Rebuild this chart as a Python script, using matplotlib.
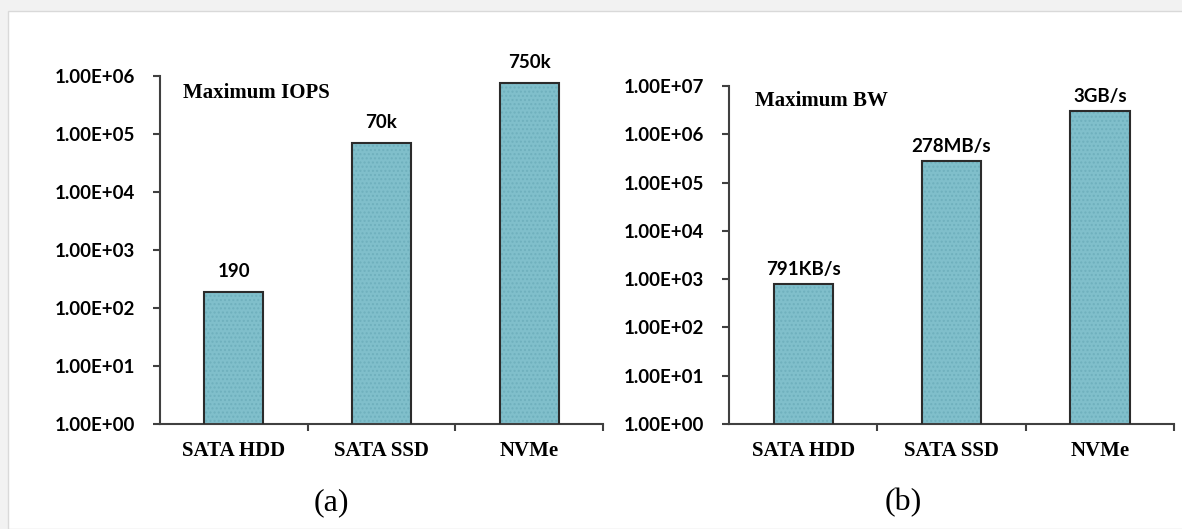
import math
import matplotlib.pyplot as plt
from matplotlib.patches import Rectangle

# data
devices = ["SATA HDD", "SATA SSD", "NVMe"]
iops = [190, 70000, 750000]
iops_labels = ["190", "70k", "750k"]
bw = [791, 278000, 3000000]          # KB/s
bw_labels = ["791KB/s", "278MB/s", "3GB/s"]

bar_color = "#80bfcb"
edge_color = "#2b2b2b"
axis_color = "#404040"

fig = plt.figure(figsize=(11.82, 5.29), dpi=100, facecolor="#f2f2f2")
# white page area
fig.patches.append(Rectangle((8 / 1182, 0), 1, 1 - 11 / 529, transform=fig.transFigure,
                             facecolor="white", edgecolor="#d9d9d9", lw=1, zorder=-1))


def panel(rect, values, labels, ymax, title, title_xy, sub, lab_off):
    ax = fig.add_axes(rect)
    ax.set_facecolor("none")
    x = range(len(values))
    ax.bar(x, values, width=0.4, color=bar_color, edgecolor="#6fb0bd", hatch="....",
           linewidth=0, zorder=2)
    ax.bar(x, values, width=0.4, facecolor="none", edgecolor=edge_color, linewidth=1.5, zorder=3)
    ax.set_yscale("log")
    ax.set_ylim(1, ymax)
    ax.set_xlim(-0.5, 2.5)
    ax.yaxis.set_major_locator(plt.LogLocator(base=10, numticks=20))
    ax.yaxis.set_minor_locator(plt.NullLocator())
    ax.yaxis.set_major_formatter(plt.FuncFormatter(lambda v, p: "1.00E+%02d" % round(math.log10(v))))
    ax.set_xticks([0.5, 1.5, 2.5])
    ax.set_xticklabels([])
    ax.set_xticks(list(x), minor=True)
    ax.set_xticklabels(devices, minor=True, fontfamily="Liberation Serif", fontweight="bold",
                       fontsize=15)
    ax.tick_params(axis="x", which="minor", length=0, pad=12)
    ax.tick_params(axis="x", which="major", length=5, width=1.5, color=axis_color)
    ax.tick_params(axis="y", length=5, width=1.5, color=axis_color, pad=13)
    for t in ax.get_yticklabels():
        t.set_fontfamily("Lato")
        t.set_fontweight("bold")
        t.set_fontsize(13.5)
    for s in ["top", "right"]:
        ax.spines[s].set_visible(False)
    for s in ["left", "bottom"]:
        ax.spines[s].set_color(axis_color)
        ax.spines[s].set_linewidth(1.5)
    for xi, v, lab in zip(x, values, labels):
        ax.annotate(lab, (xi, v), xytext=(0, lab_off), textcoords="offset points", ha="center",
                    va="bottom", fontfamily="Lato", fontweight="bold", fontsize=13.5)
    ax.text(title_xy[0], title_xy[1], title, transform=ax.transAxes, fontfamily="Liberation Serif",
            fontweight="bold", fontsize=15, va="center")
    fig.text(sub[0], sub[1], sub[2], fontfamily="Liberation Serif", fontsize=23,
             ha="center", va="center")
    return ax


panel([160 / 1182, 1 - 424 / 529, 443 / 1182, 348 / 529], iops, iops_labels, 1e6,
      "Maximum IOPS", (0.052, 0.95), (331 / 1182, 1 - 503 / 529, "(a)"), 8.5)
panel([729 / 1182, 1 - 424 / 529, 445 / 1182, 338 / 529], bw, bw_labels, 1e7,
      "Maximum BW", (0.058, 0.955), (903 / 1182, 1 - 503 / 529, "(b)"), 4.5)

fig.savefig("out.png", dpi=100, facecolor=fig.get_facecolor())
